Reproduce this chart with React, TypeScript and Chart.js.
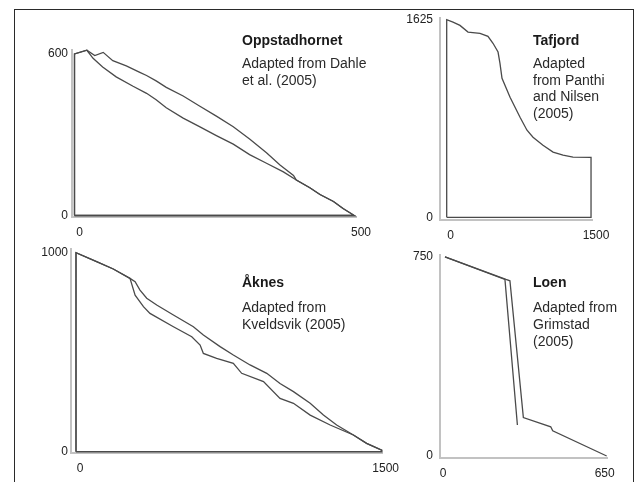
import React, { useEffect, useRef } from "react";
import { Chart, registerables } from "chart.js";

Chart.register(...registerables);

const FONT = 'Arial, "Liberation Sans", Helvetica, sans-serif';

// ---------- Oppstadhornet (distance m, elevation m) ----------
const OPP_TICKS_X = [0, 500];
const OPP_TICKS_Y = [0, 600];
const OPP_A_X = [0, 0, 22, 33, 50, 74, 104, 128, 145, 163, 193, 222, 252, 282, 311, 341, 371, 394, 418, 436, 460, 477, 497, 0];
const OPP_A_Y = [0, 600, 614, 584, 552, 515, 480, 454, 430, 400, 362, 330, 297, 265, 226, 194, 162, 132, 103, 78, 52, 26, 0, 0];
const OPP_B_X = [0, 0, 22, 36, 51, 68, 92, 116, 128, 145, 163, 193, 222, 252, 282, 311, 341, 365, 389, 394, 418, 436, 460, 477, 497, 0];
const OPP_B_Y = [0, 600, 614, 594, 606, 575, 556, 532, 520, 500, 476, 444, 407, 369, 330, 284, 233, 188, 149, 132, 103, 78, 52, 26, 0, 0];

// ---------- Tafjord ----------
const TAF_TICKS_X = [0, 1500];
const TAF_TICKS_Y = [0, 1625];
const TAF_X = [0, 0, 65, 137, 220, 344, 426, 478, 530, 550, 571, 654, 757, 829, 891, 994, 1098, 1201, 1304, 1490, 1490, 0];
const TAF_Y = [0, 1625, 1605, 1578, 1523, 1513, 1488, 1431, 1359, 1266, 1143, 987, 823, 716, 659, 593, 536, 511, 495, 492, 0, 0];

// ---------- Åknes ----------
const AAK_TICKS_X = [0, 1500];
const AAK_TICKS_Y = [0, 1000];
const AAK_A_X = [0, 0, 101, 183, 265, 290, 314, 347, 396, 478, 576, 625, 707, 772, 854, 936, 1001, 1067, 1149, 1214, 1279, 1361, 1426, 1500, 1500, 0];
const AAK_A_Y = [0, 1000, 955, 918, 871, 854, 812, 771, 737, 687, 628, 586, 528, 486, 436, 394, 343, 302, 243, 184, 134, 84, 42, 8, 0, 0];
const AAK_B_X = [0, 0, 101, 183, 265, 290, 331, 363, 478, 568, 609, 625, 690, 772, 813, 920, 1001, 1067, 1149, 1247, 1361, 1426, 1500, 1500, 0];
const AAK_B_Y = [0, 1000, 955, 918, 871, 787, 729, 695, 628, 578, 536, 494, 469, 444, 394, 352, 268, 243, 184, 134, 84, 42, 8, 0, 0];

// ---------- Loen ----------
const LOEN_TICKS_X = [0, 650];
const LOEN_TICKS_Y = [0, 750];
const LOEN_A_X = [0, 241, 291];
const LOEN_A_Y = [750, 665, 117];
const LOEN_B_X = [0, 245, 261, 315, 425, 433, 650];
const LOEN_B_Y = [750, 665, 660, 145, 110, 95, 0];

type Series = { x: number[]; y: number[] };
type PanelCfg = {
  L: number; R: number; T: number; B: number;
  x0px: number; xTickPx: number; y0px: number; yTickPx: number;
  ticksX: number[]; ticksY: number[];
  yPad: number; xLabelOffset: number;
  series: Series[];
};

const WY = 50;
const HX = 28;
const PT = 14;
const PR = 26;

const PANELS: PanelCfg[] = [
  {
    L: 72, R: 356, T: 50, B: 217,
    x0px: 74.5, xTickPx: 356, y0px: 215.5, yTickPx: 54,
    ticksX: OPP_TICKS_X, ticksY: OPP_TICKS_Y, yPad: 4, xLabelOffset: 5,
    series: [{ x: OPP_A_X, y: OPP_A_Y }, { x: OPP_B_X, y: OPP_B_Y }],
  },
  {
    L: 440, R: 592, T: 18, B: 220,
    x0px: 446.7, xTickPx: 592, y0px: 217.3, yTickPx: 19.5,
    ticksX: TAF_TICKS_X, ticksY: TAF_TICKS_Y, yPad: 7, xLabelOffset: 4,
    series: [{ x: TAF_X, y: TAF_Y }],
  },
  {
    L: 71, R: 382, T: 249, B: 453,
    x0px: 76, xTickPx: 381.7, y0px: 451.7, yTickPx: 252.7,
    ticksX: AAK_TICKS_X, ticksY: AAK_TICKS_Y, yPad: 3, xLabelOffset: 4,
    series: [{ x: AAK_A_X, y: AAK_A_Y }, { x: AAK_B_X, y: AAK_B_Y }],
  },
  {
    L: 440, R: 607, T: 255, B: 458,
    x0px: 445, xTickPx: 606.7, y0px: 456, yTickPx: 256.7,
    ticksX: LOEN_TICKS_X, ticksY: LOEN_TICKS_Y, yPad: 7, xLabelOffset: -2,
    series: [{ x: LOEN_A_X, y: LOEN_A_Y }, { x: LOEN_B_X, y: LOEN_B_Y }],
  },
];

const TEXTS = [
  { left: 242, title: "Oppstadhornet", titleY: 40, lines: ["Adapted from Dahle", "et al. (2005)"], firstY: 63.5 },
  { left: 533, title: "Tafjord", titleY: 40, lines: ["Adapted", "from Panthi", "and Nilsen", "(2005)"], firstY: 63.5 },
  { left: 242, title: "Åknes", titleY: 282, lines: ["Adapted from", "Kveldsvik (2005)"], firstY: 307.7 },
  { left: 533, title: "Loen", titleY: 282, lines: ["Adapted from", "Grimstad", "(2005)"], firstY: 307.7 },
];

const LH = 16.6;

function Panel({ cfg }: { cfg: PanelCfg }) {
  const ref = useRef<HTMLCanvasElement | null>(null);
  const width = WY + (cfg.R - cfg.L) + PR;
  const height = PT + (cfg.B - cfg.T) + HX;

  useEffect(() => {
    if (!ref.current) return;
    const xTick = cfg.ticksX[1];
    const yTick = cfg.ticksY[1];
    const sx = (cfg.xTickPx - cfg.x0px) / xTick;
    const sy = (cfg.y0px - cfg.yTickPx) / yTick;
    const xmin = (cfg.L - cfg.x0px) / sx;
    const xmax = (cfg.R - cfg.x0px) / sx + 1e-6;
    const ymin = (cfg.y0px - cfg.B) / sy;
    const ymax = (cfg.y0px - cfg.T) / sy + 1e-6;

    const tickFont = { family: FONT, size: 12 };
    const chart = new Chart(ref.current, {
      type: "scatter",
      data: {
        datasets: cfg.series.map((s) => ({
          data: s.x.map((x, i) => ({ x, y: s.y[i] })),
          showLine: true,
          borderColor: "#4a4a4a",
          borderWidth: 1.3,
          pointRadius: 0,
          pointHoverRadius: 0,
          fill: false,
          tension: 0,
          clip: false as any,
        })),
      },
      options: {
        animation: false,
        responsive: false,
        maintainAspectRatio: false,
        devicePixelRatio: 1,
        events: [],
        layout: { padding: { top: PT, right: PR, left: 0, bottom: 0 } },
        plugins: { legend: { display: false }, tooltip: { enabled: false } },
        scales: {
          x: {
            type: "linear",
            min: xmin,
            max: xmax,
            afterBuildTicks: (s: any) => {
              s.ticks = cfg.ticksX.map((v) => ({ value: v }));
            },
            afterFit: (s: any) => {
              s.height = HX;
            },
            grid: { display: false, drawTicks: false, tickLength: 0 },
            border: { display: true, color: "#c2c2c2", width: 2 },
            ticks: {
              padding: 8,
              labelOffset: cfg.xLabelOffset,
              color: "#222",
              font: tickFont,
              autoSkip: false,
              maxRotation: 0,
              minRotation: 0,
              callback: (v: any) => String(v),
            },
          },
          y: {
            type: "linear",
            min: ymin,
            max: ymax,
            afterBuildTicks: (s: any) => {
              s.ticks = cfg.ticksY.map((v) => ({ value: v }));
            },
            afterFit: (s: any) => {
              s.width = WY;
            },
            grid: { display: false, drawTicks: false, tickLength: 0 },
            border: { display: true, color: "#c2c2c2", width: 2 },
            ticks: {
              padding: cfg.yPad,
              color: "#222",
              font: tickFont,
              autoSkip: false,
              callback: (v: any) => String(v),
            },
          },
        },
      } as any,
    });
    return () => chart.destroy();
  }, [cfg]);

  return (
    <canvas
      ref={ref}
      width={width}
      height={height}
      style={{
        position: "absolute",
        left: cfg.L - WY,
        top: cfg.T - PT,
        width,
        height,
      }}
    />
  );
}

export default function App() {
  return (
    <div
      style={{
        position: "fixed",
        left: 0,
        top: 0,
        width: 634,
        height: 482,
        overflow: "hidden",
        background: "#fff",
        fontFamily: FONT,
      }}
    >
      <div
        style={{
          position: "absolute",
          left: 14,
          top: 9,
          width: 618,
          height: 500,
          borderLeft: "1px solid #2a2a2a",
          borderTop: "1px solid #2a2a2a",
          borderRight: "1px solid #2a2a2a",
        }}
      />
      {PANELS.map((p, i) => (
        <Panel key={i} cfg={p} />
      ))}
      {TEXTS.map((t, i) => (
        <React.Fragment key={i}>
          <div
            style={{
              position: "absolute",
              left: t.left,
              top: t.titleY - LH / 2,
              fontSize: 14,
              fontWeight: "bold",
              lineHeight: LH + "px",
              color: "#1a1a1a",
              whiteSpace: "nowrap",
            }}
          >
            {t.title}
          </div>
          <div
            style={{
              position: "absolute",
              left: t.left,
              top: t.firstY - LH / 2,
              fontSize: 14,
              lineHeight: LH + "px",
              color: "#2a2a2a",
              whiteSpace: "nowrap",
            }}
          >
            {t.lines.map((l, j) => (
              <div key={j}>{l}</div>
            ))}
          </div>
        </React.Fragment>
      ))}
    </div>
  );
}
